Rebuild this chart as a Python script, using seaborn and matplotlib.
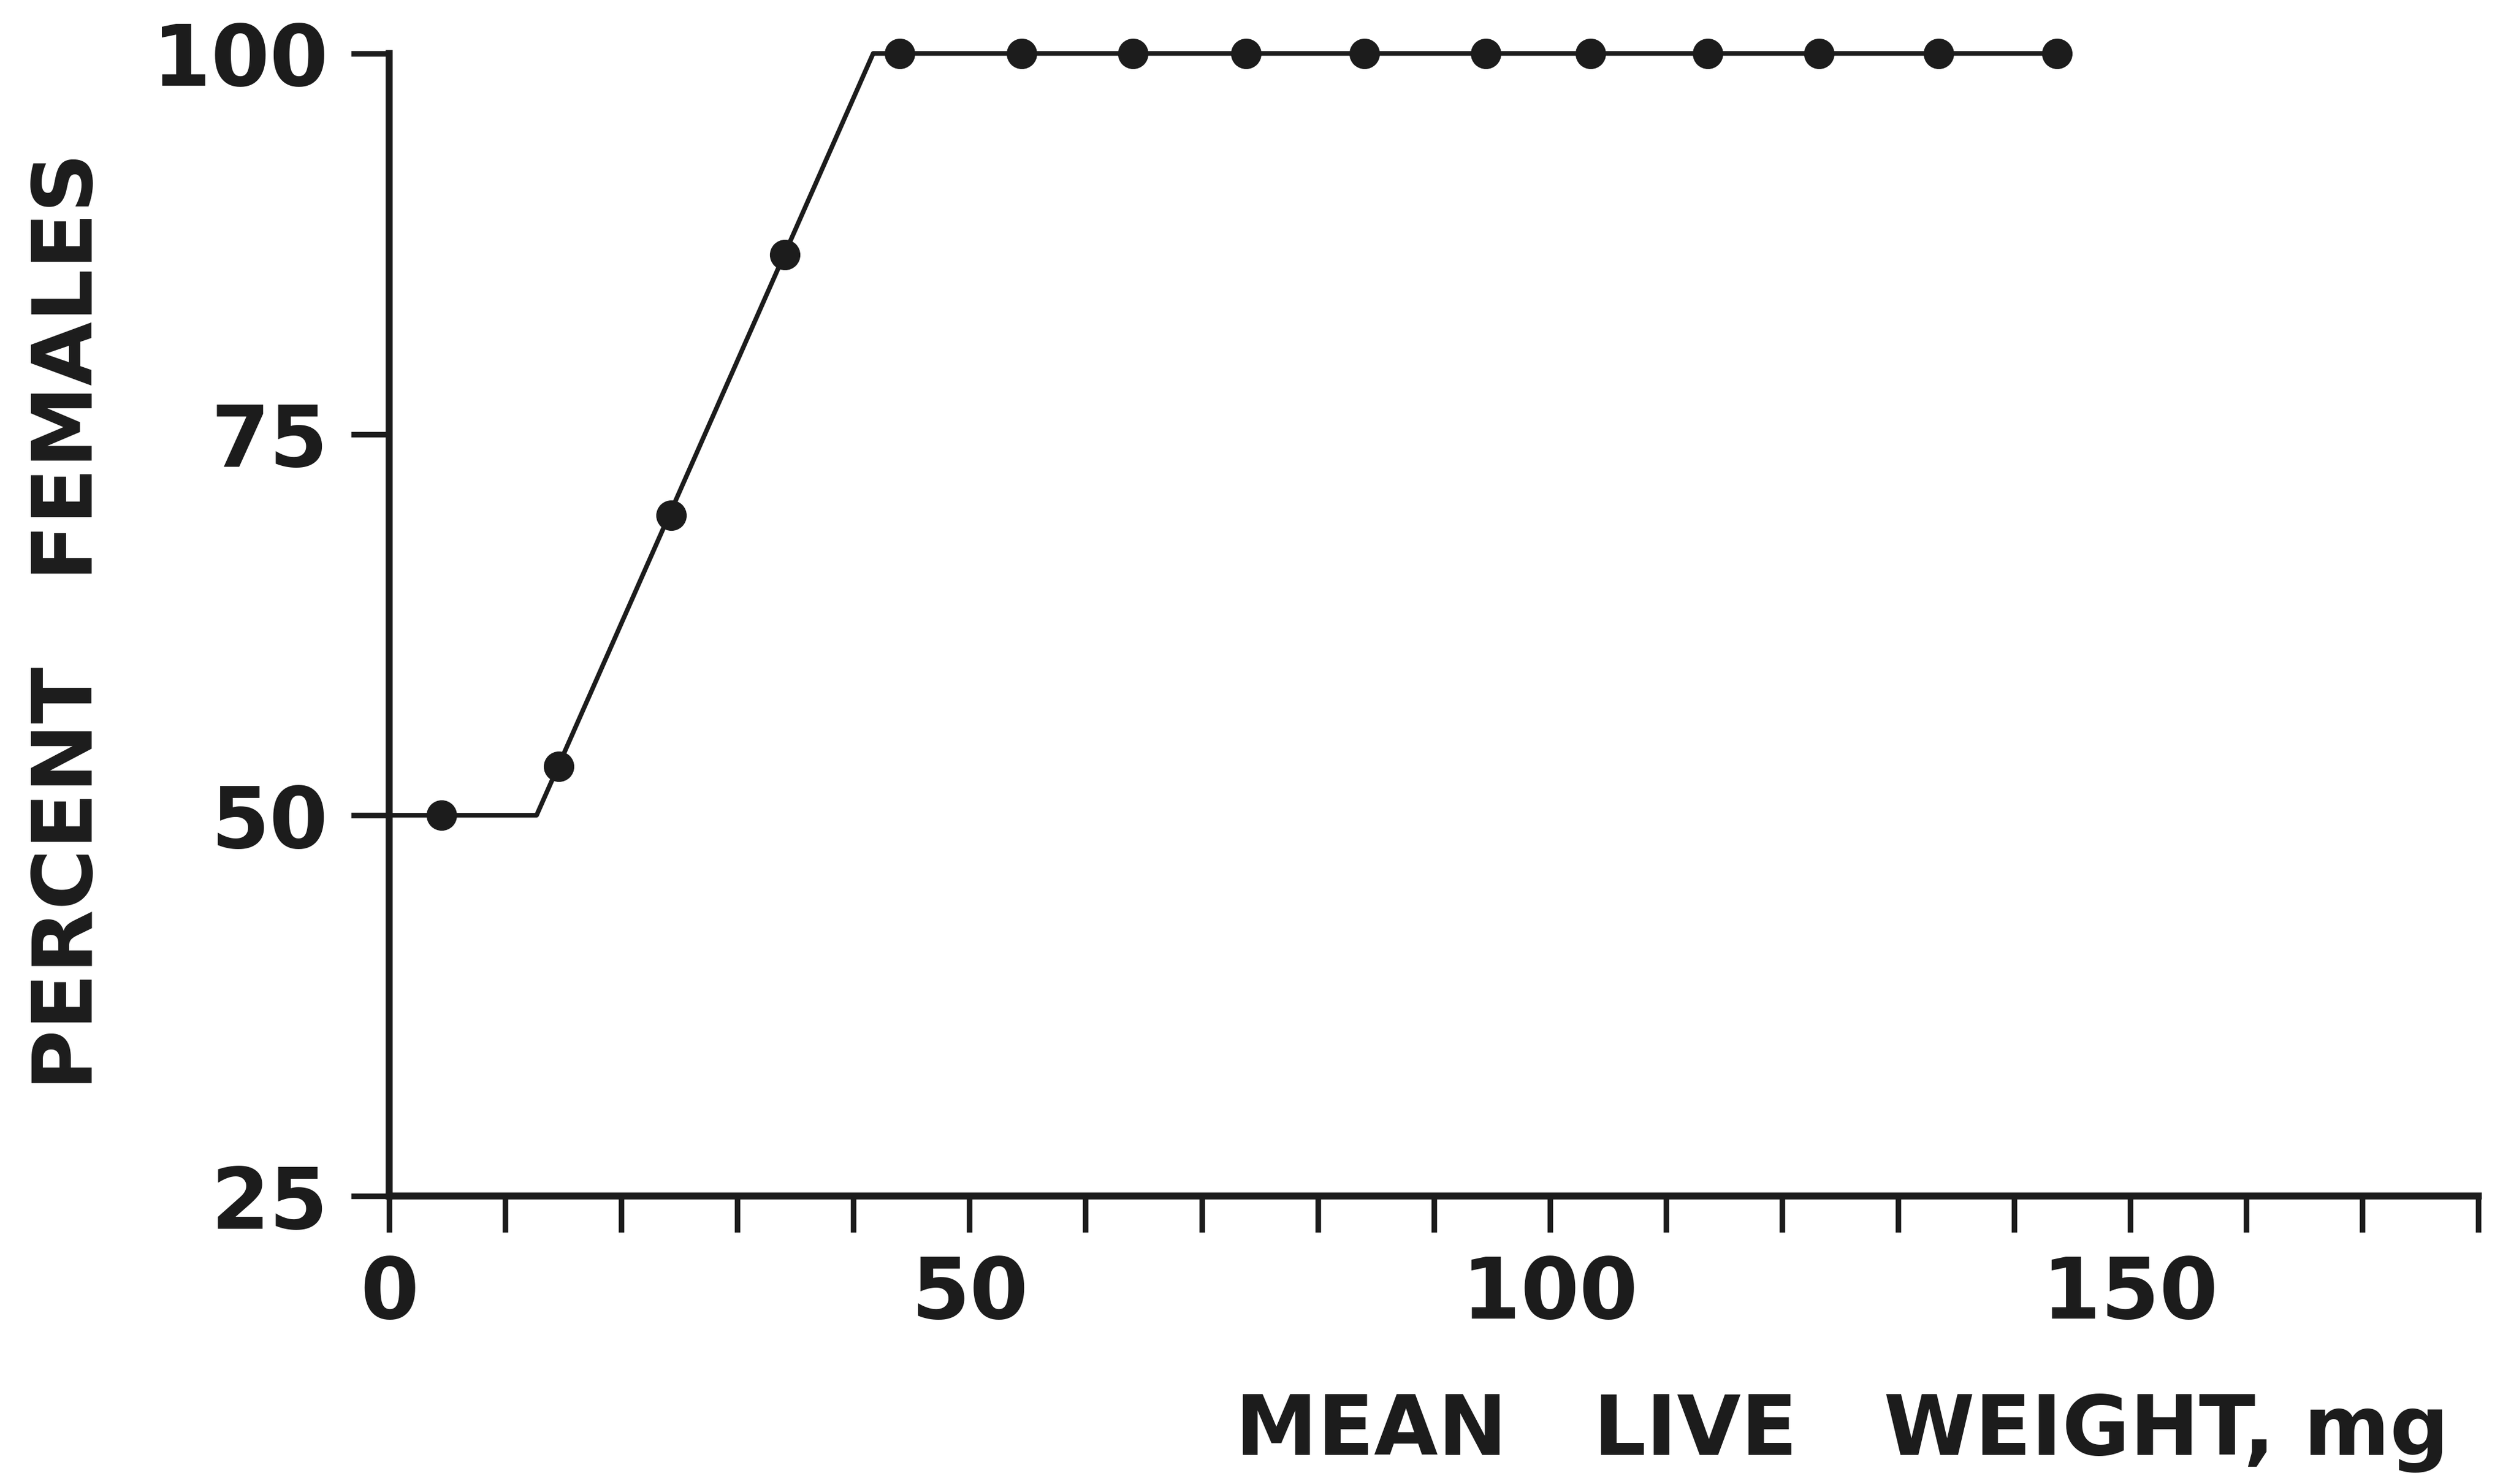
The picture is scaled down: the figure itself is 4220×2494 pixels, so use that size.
import matplotlib
matplotlib.use("Agg")
import matplotlib.pyplot as plt
import seaborn as sns
import pandas as pd

# ---- data ----
weight_mg = [4.5, 14.6, 24.3, 34.1, 44.0, 54.5, 64.1, 73.8, 84.0, 94.5, 103.5, 113.6, 123.2, 133.5, 143.7]
percent_females = [50.0, 53.2, 69.7, 86.8, 100.0, 100.0, 100.0, 100.0, 100.0, 100.0, 100.0, 100.0, 100.0, 100.0, 100.0]

fit_weight = [0.0, 12.7, 41.7, 144.5]
fit_percent = [50.0, 50.0, 100.0, 100.0]

x_ticks = list(range(0, 181, 10))
x_ticklabels = ["0" if t == 0 else (str(t) if t % 50 == 0 else "") for t in x_ticks]
y_ticks = [25, 50, 75, 100]
y_ticklabels = ["25", "50", "75", "100"]

xlabel = "MEAN   LIVE   WEIGHT, mg"
ylabel = "PERCENT   FEMALES"

points = pd.DataFrame({"weight": weight_mg, "percent": percent_females})
fit = pd.DataFrame({"weight": fit_weight, "percent": fit_percent})

sns.set_style("white")
plt.rcParams["font.family"] = ["DejaVu Sans"]

ink = "#1c1c1c"
fig = plt.figure(figsize=(21.1, 12.47), dpi=200, facecolor="white")
ax = fig.add_axes([0.155, 0.194, 0.832, 0.770])
ax.set_facecolor("white")

sns.lineplot(data=fit, x="weight", y="percent", ax=ax, color=ink, linewidth=2.8,
             sort=False, clip_on=False, zorder=3)
sns.scatterplot(data=points, x="weight", y="percent", ax=ax, color=ink, s=340,
                edgecolor=ink, linewidth=0, clip_on=False, zorder=4)

ax.set_xlim(0, 180)
ax.set_ylim(25, 100)
for side in ["top", "right"]:
    ax.spines[side].set_visible(False)
for side in ["left", "bottom"]:
    ax.spines[side].set_linewidth(4.2)
    ax.spines[side].set_color(ink)
    ax.spines[side].set_capstyle("projecting")

ax.set_xticks(x_ticks)
ax.set_xticklabels(x_ticklabels)
ax.set_yticks(y_ticks)
ax.set_yticklabels(y_ticklabels)
ax.tick_params(axis="x", direction="out", length=22, width=3.4, color=ink,
               labelsize=51, pad=13, labelcolor=ink, bottom=True)
ax.tick_params(axis="y", direction="out", length=23, width=3.4, color=ink,
               labelsize=51, pad=14, labelcolor=ink, left=True)
for lab in ax.get_xticklabels() + ax.get_yticklabels():
    lab.set_fontweight("bold")

ax.set_xlabel(xlabel, fontsize=50, fontweight="bold", color=ink, ha="right")
ax.xaxis.set_label_coords(0.986, -0.172)
ax.set_ylabel(ylabel, fontsize=50, fontweight="bold", color=ink)
ax.yaxis.set_label_coords(-0.134, 0.503)

fig.savefig("out.png", dpi=200, facecolor="white")
